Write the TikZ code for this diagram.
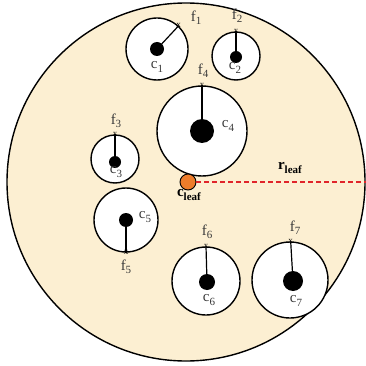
\documentclass[tikz,border=0pt]{standalone}
\usepackage{fontspec}
\setmainfont{Liberation Serif}
\usetikzlibrary{positioning}
\definecolor{LeafFill}{HTML}{FCEFD2}
\definecolor{LeafOrange}{HTML}{EE7D2B}
\definecolor{LabelGray}{HTML}{3A3A3A}
\definecolor{RadiusRed}{HTML}{E0242A}
\newcommand{\lowidx}[1]{\raisebox{-0.45ex}{\fontsize{11}{11}\selectfont #1}}

\begin{document}
\begin{tikzpicture}[x=1pt,y=-1pt,
    child/.style={circle,draw,line width=1.4pt,fill=white,inner sep=0pt},
    centre/.style={circle,fill=black,inner sep=0pt},
    crossmark/.style={font=\fontsize{9}{9}\selectfont,inner sep=0pt},
    lbl/.style={font=\fontsize{15}{15}\selectfont,text=LabelGray,inner sep=0pt}]
            \useasboundingbox (0,0) rectangle (365,366);

            % Leaf node region
            \node[circle,draw,line width=1.4pt,fill=LeafFill,inner sep=0pt,minimum size=358pt] (leaf) at (186,182) {};

            % Child circles
            \node[child,minimum size=62pt] (n1) at (157,49) {};
            \node[child,minimum size=48pt] (n2) at (236,56) {};
            \node[child,minimum size=48pt] (n3) at (115,159) {};
            \node[child,minimum size=90pt] (n4) at (202,131) {};
            \node[child,minimum size=64pt] (n5) at (126,220) {};
            \node[child,minimum size=68pt] (n6) at (206,281) {};
            \node[child,minimum size=76pt] (n7) at (290,280) {};

            % Farthest points
            \coordinate (f1) at (n1.47);
            \coordinate (f2) at (n2.90);
            \coordinate (f3) at (n3.90);
            \coordinate (f4) at (n4.90);
            \coordinate (f5) at (n5.270);
            \coordinate (f6) at (n6.90);
            \coordinate (f7) at (n7.89);

            % Centres
            \node[centre,minimum size=14pt] (c1) at (157,49) {};
            \node[centre,minimum size=12pt] (c2) at (236,57) {};
            \node[centre,minimum size=12pt] (c3) at (115,162) {};
            \node[centre,minimum size=24pt] (c4) at (202,131) {};
            \node[centre,minimum size=14pt] (c5) at (126,220) {};
            \node[centre,minimum size=16pt] (c6) at (207,282) {};
            \node[centre,minimum size=20pt] (c7) at (293,281) {};

            \foreach \i in {1,...,7} {
                \draw[line width=1.2pt] (c\i.center) -- (f\i);
                \node[crossmark] (x\i) at (f\i) {x};
            }

            % Leaf centre and radius
            \node[circle,draw,line width=0.9pt,fill=LeafOrange,inner sep=0pt,minimum size=16pt] (cleaf) at (188,182) {};
            \draw[RadiusRed,dash pattern=on 5pt off 3pt,line width=1.2pt] (cleaf.east) -- (leaf.east);

            % Labels
            \node[lbl] (lf1) at (196,18) {f\lowidx{1}};
            \node[lbl] (lf2) at (237,16) {f\lowidx{2}};
            \node[lbl] (lf3) at (116,121) {f\lowidx{3}};
            \node[lbl] (lf4) at (203,71) {f\lowidx{4}};
            \node[lbl] (lf5) at (126,267) {f\lowidx{5}};
            \node[lbl] (lf6) at (207,232) {f\lowidx{6}};
            \node[lbl] (lf7) at (295,228) {f\lowidx{7}};

            \node[lbl] (lc1) at (157,67) {c\lowidx{1}};
            \node[lbl] (lc2) at (235,68) {c\lowidx{2}};
            \node[lbl] (lc3) at (116,172) {c\lowidx{3}};
            \node[lbl] (lc4) at (228,126) {c\lowidx{4}};
            \node[lbl] (lc5) at (145,217) {c\lowidx{5}};
            \node[lbl] (lc6) at (209,300) {c\lowidx{6}};
            \node[lbl] (lc7) at (296,301) {c\lowidx{7}};

            \node[lbl,text=black] (lcleaf) at (189,195) {\textbf{c}\lowidx{\textbf{leaf}}};
            \node[lbl,text=black] (lrleaf) at (290,168) {\textbf{r}\lowidx{\textbf{leaf}}};
        \end{tikzpicture}
\end{document}
